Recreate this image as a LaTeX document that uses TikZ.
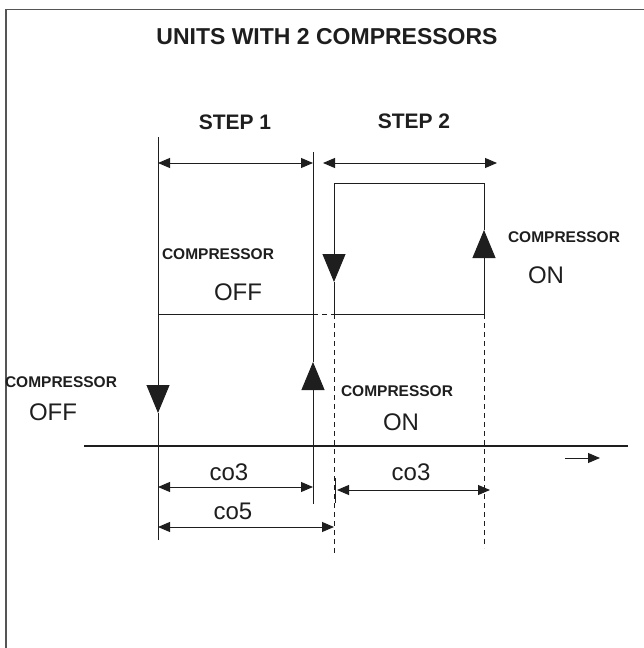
\documentclass[tikz,border=0pt]{standalone}
\usepackage{fontspec}
\setmainfont{Liberation Sans}
\usetikzlibrary{arrows.meta}
\definecolor{InkGray}{RGB}{30,30,30}
\definecolor{FrameGray}{RGB}{85,85,85}

\begin{document}
\begin{tikzpicture}[x=1pt,y=-1pt,>={Triangle[length=12pt,width=10pt]},
  thin line/.style={line width=0.9pt,draw=InkGray},
  dim line/.style={<->,line width=0.9pt,draw=InkGray},
  big tip/.style={-{Triangle[length=28pt,width=23pt]},line width=0.9pt,draw=InkGray},
  dash line/.style={line width=0.9pt,draw=InkGray,dash pattern=on 5pt off 4pt},
  head/.style={font=\bfseries\fontsize{23}{26}\selectfont,text=InkGray,inner sep=0pt},
  steplbl/.style={font=\bfseries\fontsize{21}{24}\selectfont,text=InkGray,inner sep=0pt},
  cmplbl/.style={font=\bfseries\fontsize{15.5}{18}\selectfont,text=InkGray,inner sep=0pt},
  statelbl/.style={font=\fontsize{24}{28}\selectfont,text=InkGray,inner sep=0pt}]
\useasboundingbox (0,0) rectangle (643,648);
\draw[FrameGray,line width=1.5pt] (6,660) |- (660,9.5);
% texts
\node[head] (t0) at (327,37) {UNITS WITH 2 COMPRESSORS};
\node[steplbl] (s1) at (235,122) {STEP 1};
\node[steplbl] (s2) at (414,121) {STEP 2};
\node[cmplbl] (c1) at (218,254) {COMPRESSOR};
\node[statelbl] (o1) at (238,292) {OFF};
\node[cmplbl] (c2) at (564,237) {COMPRESSOR};
\node[statelbl] (o2) at (546,275) {ON};
\node[cmplbl] (c3) at (61,382) {COMPRESSOR};
\node[statelbl] (o3) at (53,412) {OFF};
\node[cmplbl] (c4) at (397,391) {COMPRESSOR};
\node[statelbl] (o4) at (401,422) {ON};
\node[statelbl] (d1) at (229,472) {co3};
\node[statelbl] (d2) at (233,511) {co5};
\node[statelbl] (d3) at (411,472) {co3};
% points of the four switching lines
\coordinate (a0) at (158,137); \coordinate (a1) at (158,413); \coordinate (a2) at (158,540);
\coordinate (b0) at (313,152); \coordinate (b1) at (313,362); \coordinate (b2) at (313,504);
\coordinate (e0) at (334,183); \coordinate (e1) at (334,282); \coordinate (e2) at (334,314); \coordinate (e3) at (334,555);
\coordinate (f0) at (484,183); \coordinate (f1) at (484,230); \coordinate (f2) at (484,314); \coordinate (f3) at (484,548);
\coordinate (am) at (158,314); \coordinate (bm) at (313,314);
\draw[big tip] (a0)--(a1);
\draw[thin line] (a1)--(a2);
\draw[big tip] (b2)--(b1);
\draw[thin line] (b1)--(b0);
\draw[thin line] (f0)--(e0);
\draw[big tip] (e0)--(e1);
\draw[thin line] (e1)--(e2);
\draw[dash line] (e2)--(e3);
\draw[big tip] (f2)--(f1);
\draw[thin line] (f1)--(f0);
\draw[dash line] (f2)--(f3);
\draw[thin line] (am)--(bm);
\draw[dash line] (bm)--(e2);
\draw[thin line] (e2)--(f2);
% time axis
\coordinate (x0) at (84,446); \coordinate (x1) at (628,446);
\draw[line width=1.1pt,draw=InkGray] (x0)--(x1);
\coordinate (t1) at (565,458); \coordinate (t2) at (600,458);
\draw[->,thin line] (t1)--(t2);
% step widths and delays
\coordinate (p1) at (158,163); \coordinate (p2) at (313,163);
\coordinate (p3) at (323,163); \coordinate (p4) at (497,163);
\draw[dim line] (p1)--(p2);
\draw[dim line] (p3)--(p4);
\coordinate (q1) at (158,487); \coordinate (q2) at (313,487);
\coordinate (q3) at (158,527); \coordinate (q4) at (334,527);
\coordinate (q5) at (337,490); \coordinate (q6) at (490,490);
\coordinate (k0) at (335,478); \coordinate (k1) at (335,503);
\draw[dim line] (q1)--(q2);
\draw[dim line] (q3)--(q4);
\draw[dim line] (q5)--(q6);
\draw[thin line] (k0)--(k1);
\end{tikzpicture}
\end{document}
